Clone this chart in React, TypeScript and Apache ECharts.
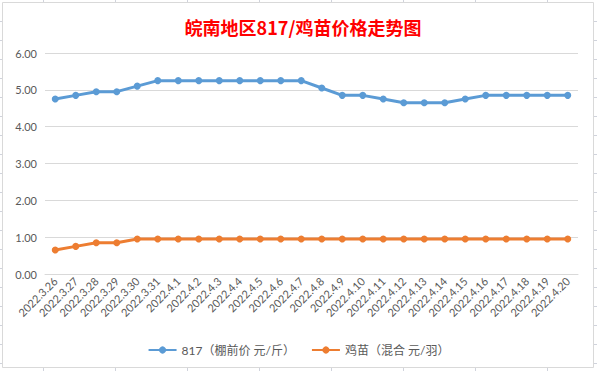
import React, { useEffect, useRef } from "react";
import * as echarts from "echarts";

const categories = [
  "2022.3.26", "2022.3.27", "2022.3.28", "2022.3.29", "2022.3.30", "2022.3.31",
  "2022.4.1", "2022.4.2", "2022.4.3", "2022.4.4", "2022.4.5", "2022.4.6", "2022.4.7",
  "2022.4.8", "2022.4.9", "2022.4.10", "2022.4.11", "2022.4.12", "2022.4.13",
  "2022.4.14", "2022.4.15", "2022.4.16", "2022.4.17", "2022.4.18", "2022.4.19", "2022.4.20",
];
const series817 = [
  4.75, 4.85, 4.95, 4.95, 5.1, 5.25,
  5.25, 5.25, 5.25, 5.25, 5.25, 5.25, 5.25,
  5.05, 4.85, 4.85, 4.75, 4.65, 4.65,
  4.65, 4.75, 4.85, 4.85, 4.85, 4.85, 4.85,
];
const seriesChick = [
  0.65, 0.75, 0.85, 0.85, 0.95, 0.95,
  0.95, 0.95, 0.95, 0.95, 0.95, 0.95, 0.95,
  0.95, 0.95, 0.95, 0.95, 0.95, 0.95,
  0.95, 0.95, 0.95, 0.95, 0.95, 0.95, 0.95,
];
const seriesNames = ["817（棚前价 元/斤）", "鸡苗（混合 元/羽）"];
const titleText = "皖南地区817/鸡苗价格走势图";

const W = 597;
const H = 371;
const FONT = "Lato, 'Noto Sans CJK SC', sans-serif";

export default function App() {
  const ref = useRef<HTMLDivElement>(null);
  useEffect(() => {
    document.body.style.margin = "0";
    const chart = echarts.init(ref.current!, null, { renderer: "svg" });
    const sheetColor = "#d0d3dc";
    const graphics: any[] = [];
    graphics.push({
      type: "rect",
      z: -10,
      shape: { x: 2.5, y: 2.5, width: 591, height: 365 },
      style: { fill: "#ffffff", stroke: "#d9d9d9", lineWidth: 1 },
      silent: true,
    });
    for (let x = 43; x < W; x += 72) {
      graphics.push({ type: "line", z: -10, silent: true, shape: { x1: x + 0.5, y1: 0, x2: x + 0.5, y2: 2 }, style: { stroke: sheetColor, lineWidth: 1 } });
      graphics.push({ type: "line", z: -10, silent: true, shape: { x1: x + 0.5, y1: 368, x2: x + 0.5, y2: H }, style: { stroke: sheetColor, lineWidth: 1 } });
    }
    for (let y = 21; y < H; y += 19) {
      graphics.push({ type: "line", z: -10, silent: true, shape: { x1: 0, y1: y + 0.5, x2: 2, y2: y + 0.5 }, style: { stroke: sheetColor, lineWidth: 1 } });
      graphics.push({ type: "line", z: -10, silent: true, shape: { x1: 594, y1: y + 0.5, x2: W, y2: y + 0.5 }, style: { stroke: sheetColor, lineWidth: 1 } });
    }
    chart.setOption({
      animation: false,
      backgroundColor: "#ffffff",
      title: {
        text: titleText,
        left: 298,
        textAlign: "center",
        top: 13,
        textStyle: {
          color: "#ff0000",
          fontSize: 18,
          fontWeight: "bold",
          fontFamily: "'Noto Sans CJK SC', sans-serif",
        },
      },
      graphic: graphics,
      grid: { left: 45, right: 19, top: 53, bottom: 97, containLabel: false },
      legend: {
        bottom: 10,
        left: "center",
        itemGap: 16,
        itemWidth: 28,
        itemHeight: 9,
        textStyle: { color: "#595959", fontSize: 12, fontFamily: FONT },
        data: seriesNames,
      },
      xAxis: {
        type: "category",
        data: categories,
        boundaryGap: true,
        axisLine: { show: true, lineStyle: { color: "#d9d9d9", width: 1 } },
        axisTick: { show: false },
        axisLabel: {
          rotate: 45,
          interval: 0,
          color: "#595959",
          fontSize: 11,
          fontFamily: FONT,
          margin: 5,
        },
      },
      yAxis: {
        type: "value",
        min: 0,
        max: 6,
        interval: 1,
        axisLine: { show: false },
        axisTick: { show: false },
        splitLine: { lineStyle: { color: "#d9d9d9", width: 1 } },
        axisLabel: {
          color: "#595959",
          fontSize: 11,
          fontFamily: FONT,
          margin: 8,
          formatter: (v: number) => v.toFixed(2),
        },
      },
      series: [
        {
          name: seriesNames[0],
          type: "line",
          data: series817,
          symbol: "circle",
          symbolSize: 7,
          itemStyle: { color: "#5b9bd5" },
          lineStyle: { color: "#5b9bd5", width: 3 },
        },
        {
          name: seriesNames[1],
          type: "line",
          data: seriesChick,
          symbol: "circle",
          symbolSize: 7,
          itemStyle: { color: "#ed7d31" },
          lineStyle: { color: "#ed7d31", width: 3 },
        },
      ],
    });
    return () => chart.dispose();
  }, []);
  return <div ref={ref} style={{ width: W, height: H }} />;
}
